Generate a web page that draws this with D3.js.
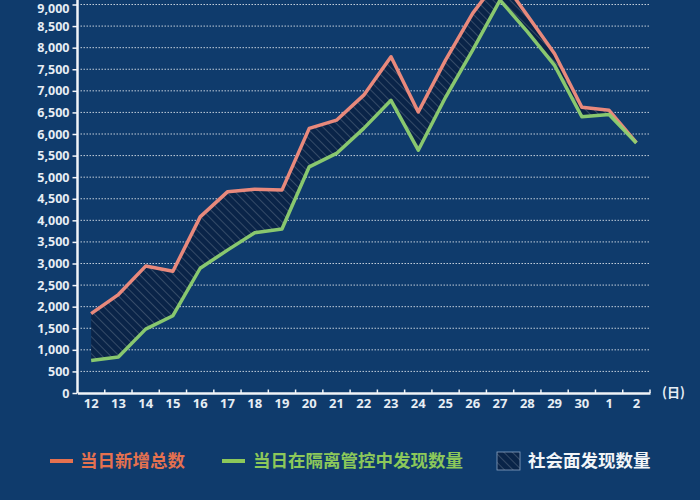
<!DOCTYPE html>
<html>
<head>
<meta charset="utf-8">
<script src="https://cdn.jsdelivr.net/npm/d3@7/dist/d3.min.js"></script>
<style>
  html, body { margin: 0; padding: 0; background: #0f3b6c; }
  svg { display: block; }
  .tick text { font-family: "Noto Sans", "DejaVu Sans", sans-serif; font-weight: 700; }
</style>
</head>
<body>
<svg id="chart" width="700" height="500"></svg>
<script>
// ---- data ----
const days = ["12","13","14","15","16","17","18","19","20","21","22","23","24","25","26","27","28","29","30","1","2"];
const totalNew = [1840, 2280, 2940, 2820, 4080, 4660, 4720, 4700, 6130, 6320, 6900, 7790, 6510, 7710, 8800, 9630, 8750, 7860, 6620, 6550, 5800];
const inControl = [755, 835, 1480, 1790, 2890, 3310, 3710, 3800, 5240, 5550, 6130, 6780, 5625, 6850, 7950, 9100, 8370, 7590, 6400, 6450, 5790];
const yTicks = [0, 500, 1000, 1500, 2000, 2500, 3000, 3500, 4000, 4500, 5000, 5500, 6000, 6500, 7000, 7500, 8000, 8500, 9000];
const legendLabels = ["当日新增总数", "当日在隔离管控中发现数量", "社会面发现数量"];
const unitLabel = "(日)";

const colors = { bg: "#0f3b6c", red: "#e8897c", green: "#8fd070", redText: "#e5714f", greenText: "#8cc85a", axis: "#f0f4f8", hatchBg: "#0a2448" };

const svg = d3.select("#chart");
svg.append("rect").attr("width", 700).attr("height", 500).attr("fill", colors.bg);

const mLeft = 77.5, mRight = 650, mTop = 4.5, mBottom = 393;

const x = d3.scaleBand().domain(days).range([mLeft, mRight]).padding(0);
const y = d3.scaleLinear().domain([0, 9000]).range([mBottom, mTop]);

// hatch pattern
const defs = svg.append("defs");
const pat = defs.append("pattern").attr("id", "hatch").attr("patternUnits", "userSpaceOnUse")
  .attr("width", 6).attr("height", 6).attr("patternTransform", "rotate(-45)");
pat.append("rect").attr("width", 6).attr("height", 6).attr("fill", colors.hatchBg);
pat.append("line").attr("x1", 0).attr("y1", 0).attr("x2", 0).attr("y2", 6)
  .attr("stroke", "#ffffff").attr("stroke-opacity", 0.35).attr("stroke-width", 1);

// gridlines
const grid = svg.append("g");
grid.selectAll("line").data(yTicks.filter(d => d > 0)).join("line")
  .attr("x1", mLeft + 3).attr("x2", mRight)
  .attr("y1", d => y(d)).attr("y2", d => y(d))
  .attr("stroke", "#ffffff").attr("stroke-opacity", 0.75)
  .attr("stroke-width", 1).attr("stroke-dasharray", "1.5,1.5");

const cx = (d, i) => x(days[i]) + x.bandwidth() / 2;
const rows = days.map((d, i) => ({ d, t: totalNew[i], g: inControl[i] }));

// hatched area between lines
svg.append("path").datum(rows)
  .attr("d", d3.area().x((r) => x(r.d) + x.bandwidth() / 2).y0(r => y(r.g)).y1(r => y(r.t)))
  .attr("fill", "url(#hatch)");

// lines
svg.append("path").datum(totalNew)
  .attr("d", d3.line().x(cx).y(d => y(d)))
  .attr("fill", "none").attr("stroke", colors.red).attr("stroke-width", 3.5).attr("stroke-linejoin", "round");
svg.append("path").datum(inControl)
  .attr("d", d3.line().x(cx).y(d => y(d)))
  .attr("fill", "none").attr("stroke", colors.green).attr("stroke-width", 3.5).attr("stroke-linejoin", "round")
  .attr("stroke-opacity", 0.95);

// y axis
const yAxis = svg.append("g").attr("transform", `translate(${mLeft},0)`)
  .call(d3.axisLeft(y).tickValues(yTicks).tickFormat(d3.format(",")).tickSizeInner(5).tickSizeOuter(0).tickPadding(3));
yAxis.select(".domain").remove();
yAxis.append("line").attr("x1", 0).attr("x2", 0).attr("y1", 0).attr("y2", mBottom).attr("stroke", colors.axis).attr("stroke-width", 2.5);
yAxis.selectAll(".tick line").attr("stroke", colors.axis).attr("stroke-width", 1.5);
yAxis.selectAll(".tick text").attr("fill", "#e6edf4").attr("font-size", 12.5);
// keep the topmost label inside the frame
yAxis.selectAll(".tick").filter(d => d === 9000).select("text").attr("dy", "0.62em");

// x axis
const xAxis = svg.append("g").attr("transform", `translate(0,${mBottom})`)
  .call(d3.axisBottom(x).tickSizeInner(0).tickSizeOuter(0).tickPadding(6));
xAxis.select(".domain").attr("stroke", colors.axis).attr("stroke-width", 2.5);
xAxis.selectAll(".tick text").attr("fill", "#e6edf4").attr("font-size", 13);
// band boundary ticks
xAxis.append("g").selectAll("line").data(days.slice(1).concat(["__end"])).join("line")
  .attr("x1", (d) => d === "__end" ? mRight : x(d)).attr("x2", (d) => d === "__end" ? mRight : x(d))
  .attr("y1", 0).attr("y2", -3.5).attr("stroke", colors.axis).attr("stroke-width", 1.5);

svg.append("text").attr("x", 662).attr("y", 397).text(unitLabel)
  .attr("fill", "#e6edf4").attr("font-size", 13).attr("font-weight", 700)
  .attr("font-family", "'Noto Sans CJK SC', sans-serif");

// legend
const lg = svg.append("g").attr("font-family", "'Noto Sans CJK SC', sans-serif").attr("font-weight", 700).attr("font-size", 17.5);
lg.append("line").attr("x1", 50).attr("x2", 73).attr("y1", 461).attr("y2", 461).attr("stroke", colors.redText).attr("stroke-width", 4);
lg.append("text").attr("x", 80).attr("y", 467).attr("fill", colors.redText).text(legendLabels[0]);
lg.append("line").attr("x1", 222).attr("x2", 245).attr("y1", 461).attr("y2", 461).attr("stroke", colors.greenText).attr("stroke-width", 4);
lg.append("text").attr("x", 253).attr("y", 467).attr("fill", colors.greenText).text(legendLabels[1]);
lg.append("rect").attr("x", 497).attr("y", 452).attr("width", 23).attr("height", 18)
  .attr("fill", "url(#hatch)").attr("stroke", "#8aa4c4").attr("stroke-width", 0.8);
lg.append("text").attr("x", 528).attr("y", 467).attr("fill", "#f2f5f8").text(legendLabels[2]);
</script>
</body>
</html>
